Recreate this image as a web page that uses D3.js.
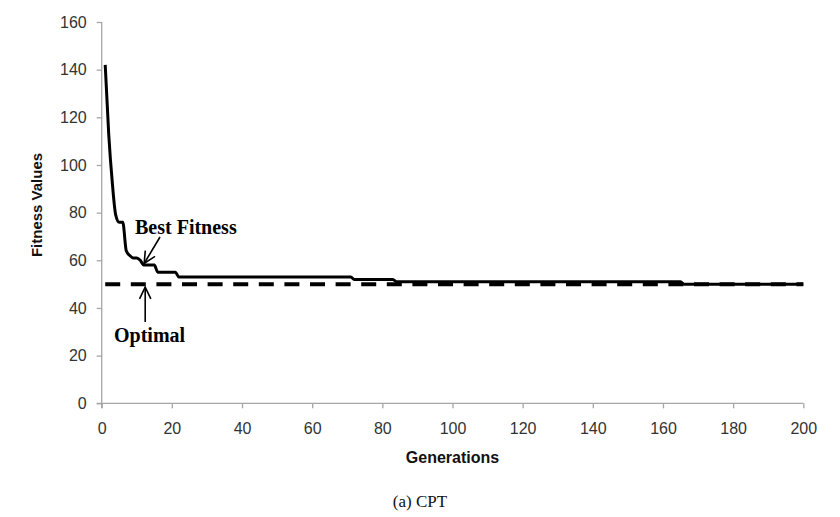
<!DOCTYPE html>
<html>
<head>
<meta charset="utf-8">
<script src="https://cdn.jsdelivr.net/npm/d3@7/dist/d3.min.js"></script>
<style>
  html, body { margin: 0; padding: 0; background: #fff; }
  svg { display: block; }
</style>
</head>
<body>
<svg id="chart" width="840" height="517"></svg>
<script>
// ---- data ----
const generations = [1, 2, 3, 4, 5, 6, 7, 8, 9, 10, 11, 12, 15, 16, 21, 22, 71, 72, 83, 84, 165, 166, 200];
const bestFitness = [142, 113, 93, 79, 76, 76, 64, 62, 61, 61, 60, 58, 58, 55, 55, 53, 53, 52, 52, 51, 51, 50, 50];
const optimalGenerations = [1, 200];
const optimalValues = [50, 50];
const xTicks = [0, 20, 40, 60, 80, 100, 120, 140, 160, 180, 200];
const yTicks = [0, 20, 40, 60, 80, 100, 120, 140, 160];
const xTitle = "Generations";
const yTitle = "Fitness Values";
const caption = "(a) CPT";
const bestLabel = "Best Fitness";
const optimalLabel = "Optimal";

const svg = d3.select("#chart");
const x = d3.scaleLinear().domain([0, 200]).range([101.7, 803.3]);
const y = d3.scaleLinear().domain([0, 160]).range([403.3, 22]);

const axisColor = "#a6a6a6";
const tickFont = "'Liberation Sans', Arial, sans-serif";

// y axis
const yAxis = svg.append("g").attr("transform", `translate(${x(0)},0)`)
  .call(d3.axisLeft(y).tickValues(yTicks).tickSize(5).tickPadding(10).tickSizeOuter(0));
// x axis
const xAxis = svg.append("g").attr("transform", `translate(0,${y(0)})`)
  .call(d3.axisBottom(x).tickValues(xTicks).tickSize(5).tickPadding(14).tickSizeOuter(0));

[xAxis, yAxis].forEach(g => {
  g.select(".domain").attr("stroke", axisColor).attr("stroke-width", 1.3);
  g.selectAll(".tick line").attr("stroke", axisColor).attr("stroke-width", 1.3);
  g.selectAll(".tick text").attr("fill", "#333").style("font-family", tickFont).style("font-size", "16px");
});
xAxis.select(".domain").attr("d", `M${x(0) - 5},0H${x(200)}`);
yAxis.select(".domain").attr("d", `M0,${y(160)}V${y(0) + 5}`);

// optimal dashed line
const lineGen = d3.line().x(d => x(d[0])).y(d => y(d[1]));
svg.append("path")
  .datum(d3.zip(optimalGenerations, optimalValues))
  .attr("d", lineGen)
  .attr("fill", "none").attr("stroke", "#000").attr("stroke-width", 4)
  .attr("stroke-dasharray", "15,10.6");

// best fitness line
svg.append("path")
  .datum(d3.zip(generations, bestFitness))
  .attr("d", d3.line().x(d => x(d[0])).y(d => y(d[1])).curve(d3.curveMonotoneX))
  .attr("fill", "none").attr("stroke", "#000").attr("stroke-width", 3)
  .attr("stroke-linejoin", "round");

// axis titles
svg.append("text")
  .attr("x", (x(0) + x(200)) / 2).attr("y", 463)
  .attr("text-anchor", "middle")
  .style("font-family", tickFont).style("font-weight", "bold").style("font-size", "16px")
  .attr("fill", "#111")
  .text(xTitle);
svg.append("text")
  .attr("transform", `translate(42,205) rotate(-90)`)
  .attr("text-anchor", "middle")
  .style("font-family", tickFont).style("font-weight", "bold").style("font-size", "15px")
  .attr("fill", "#111")
  .text(yTitle);

// caption
svg.append("text")
  .attr("x", 420).attr("y", 507)
  .attr("text-anchor", "middle")
  .style("font-family", "'Liberation Serif', 'Times New Roman', serif").style("font-size", "17px")
  .attr("fill", "#111")
  .text(caption);

// annotations
const serif = "'Liberation Serif', 'Times New Roman', serif";
svg.append("text").attr("x", 135).attr("y", 234)
  .style("font-family", serif).style("font-weight", "bold").style("font-size", "20px")
  .text(bestLabel);
svg.append("text").attr("x", 114).attr("y", 342)
  .style("font-family", serif).style("font-weight", "bold").style("font-size", "20px")
  .text(optimalLabel);

function arrow(x1, y1, x2, y2) {
  const ang = Math.atan2(y2 - y1, x2 - x1);
  const len = 13, spread = 0.45;
  const g = svg.append("g").attr("stroke", "#000").attr("stroke-width", 1.6).attr("fill", "none");
  g.append("line").attr("x1", x1).attr("y1", y1).attr("x2", x2).attr("y2", y2);
  g.append("path").attr("d",
    `M${x2 - len * Math.cos(ang - spread)},${y2 - len * Math.sin(ang - spread)}L${x2},${y2}L${x2 - len * Math.cos(ang + spread)},${y2 - len * Math.sin(ang + spread)}`);
}
arrow(160, 237, x(12.1), y(59.5) + 2);
arrow(x(12.4), 322, x(12.4), y(50) + 3);
</script>
</body>
</html>
